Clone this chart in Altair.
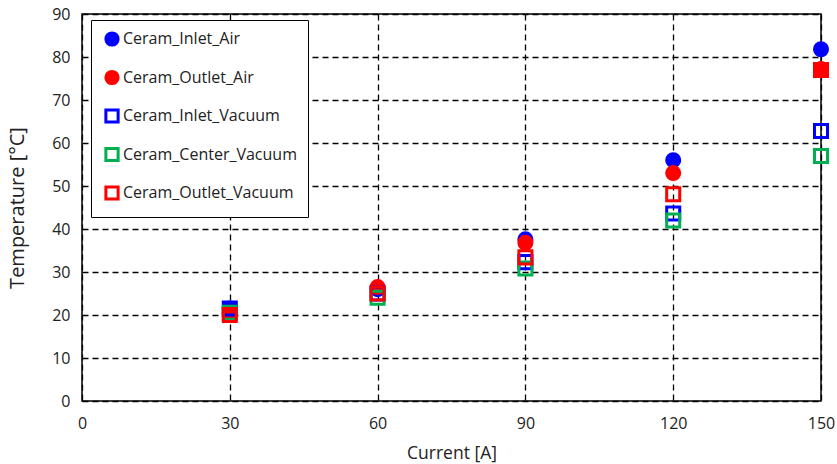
import altair as alt
import pandas as pd

currents = [30, 60, 90, 120, 150]
series_names = ["Ceram_Inlet_Air", "Ceram_Outlet_Air", "Ceram_Inlet_Vacuum",
                "Ceram_Center_Vacuum", "Ceram_Outlet_Vacuum"]
inlet_air = [21.5, 26.0, 37.6, 56.0, 81.8]
outlet_air = [20.5, 26.5, 36.8, 53.0, 77.2]
inlet_vacuum = [21.5, 25.0, 32.3, 43.6, 62.8]
center_vacuum = [20.5, 24.0, 30.8, 42.0, 57.0]
outlet_vacuum = [20.0, 25.0, 33.4, 48.1, 77.0]

colors = ["#0000FF", "#FF0000", "#0000FF", "#00B050", "#FF0000"]
fills = ["#0000FF", "#FF0000", "transparent", "transparent", "transparent"]
shapes = ["circle", "circle", "square", "square", "square"]

rows = []
for name, vals in zip(series_names, [inlet_air, outlet_air, inlet_vacuum, center_vacuum, outlet_vacuum]):
    for c, v in zip(currents, vals):
        rows.append({"series": name, "current": c, "temp": v, "order": series_names.index(name)})
df = pd.DataFrame(rows)

FONT = "Open Sans"

legend = alt.Legend(
    title=None, orient="none", legendX=9, legendY=6,
    strokeColor="black", fillColor="white", padding=11,
    labelFontSize=16, labelFont=FONT, labelColor="#222222", labelLimit=400,
    rowPadding=12.5, symbolSize=150, symbolStrokeWidth=3, labelOffset=3,
    symbolOffset=2,
)

sc = alt.Scale(domain=series_names, range=colors)
sf = alt.Scale(domain=series_names, range=fills)
ss = alt.Scale(domain=series_names, range=shapes)

chart = alt.Chart(df).mark_point(size=170, strokeWidth=3, opacity=1, filled=False).encode(
    x=alt.X("current:Q", title="Current [A]",
            scale=alt.Scale(domain=[0, 150], nice=False),
            axis=alt.Axis(values=[0, 30, 60, 90, 120, 150], grid=True, labelFlush=False)),
    y=alt.Y("temp:Q", title="Temperature [°C]",
            scale=alt.Scale(domain=[0, 90], nice=False),
            axis=alt.Axis(values=list(range(0, 91, 10)), grid=True, labelFlush=False,
                          titleFontSize=20)),
    color=alt.Color("series:N", scale=sc, legend=legend, sort=series_names),
    fill=alt.Fill("series:N", scale=sf, legend=legend, sort=series_names),
    shape=alt.Shape("series:N", scale=ss, legend=legend, sort=series_names),
    order=alt.Order("order:Q"),
).properties(
    width=739, height=387,
    autosize=alt.AutoSizeParams(type="none"),
    padding={"left": 82, "top": 14, "right": 16, "bottom": 63},
).configure_view(
    stroke="black", strokeWidth=1.5
).configure_axis(
    gridColor="black", gridDash=[6, 4], gridWidth=1.3, gridOpacity=1,
    domain=False, ticks=False,
    labelFont=FONT, labelFontSize=16, labelColor="#222222",
    titleFont=FONT, titleFontSize=17.5, titleColor="#222222", titleFontWeight="normal",
).configure_axisX(labelPadding=14, titlePadding=13).configure_axisY(labelPadding=12, titlePadding=24)

chart.save("out.html", embed_options={"renderer": "svg", "actions": False})
